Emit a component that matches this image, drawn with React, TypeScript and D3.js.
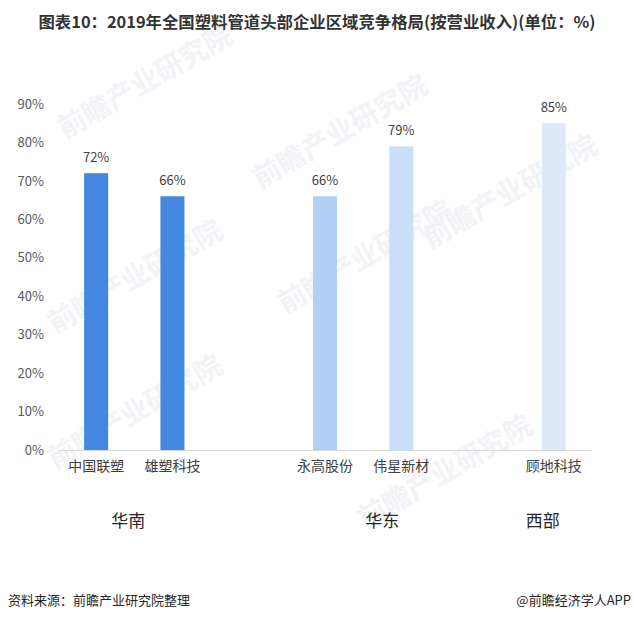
import * as React from "react";
import * as d3 from "d3";

const companies = ["中国联塑", "雄塑科技", "永高股份", "伟星新材", "顾地科技"];
const shares = [72, 66, 66, 79, 85];
const companyRegion = ["华南", "华南", "华东", "华东", "西部"];
const regions = ["华南", "华东", "西部"];
const yTicks = [0, 10, 20, 30, 40, 50, 60, 70, 80, 90];
const barColors = ["#4287e0", "#4287e0", "#b2cff5", "#c9dff9", "#dde9f9"];
// small nudges so region titles sit where the original placed them
const regionShift = [-6, 19, -11];

const W = 634;
const H = 621;
const FONT = "'Noto Sans CJK SC', 'Noto Sans', sans-serif";

export default function App() {
  const ref = React.useRef<SVGSVGElement | null>(null);

  React.useEffect(() => {
    const svg = d3.select(ref.current);
    svg.selectAll("*").remove();

    // slot domain: companies with an empty slot between regions
    const domain: string[] = [];
    regions.forEach((r, ri) => {
      if (ri > 0) domain.push("_gap" + ri);
      companies.forEach((c, i) => {
        if (companyRegion[i] === r) domain.push(c);
      });
    });

    const x = d3
      .scaleBand<string>()
      .domain(domain)
      .range([58, 592])
      .paddingInner(0.685)
      .paddingOuter(0.3425);
    const y = d3.scaleLinear().domain([0, 90]).range([450, 104]);

    // watermark
    const marks = [
      [150, 90],
      [140, 285],
      [345, 140],
      [370, 265],
      [515, 200],
      [450, 480],
      [140, 420],
    ];
    svg
      .append("g")
      .selectAll("text")
      .data(marks)
      .enter()
      .append("text")
      .attr("x", (d) => d[0])
      .attr("y", (d) => d[1])
      .attr("transform", (d) => `rotate(-30, ${d[0]}, ${d[1]})`)
      .attr("text-anchor", "middle")
      .attr("font-family", FONT)
      .attr("font-weight", "bold")
      .attr("font-size", 28)
      .attr("fill", "#f1f3f6")
      .text("前瞻产业研究院");

    // title
    svg
      .append("text")
      .attr("x", W / 2)
      .attr("y", 28)
      .attr("text-anchor", "middle")
      .attr("font-family", FONT)
      .attr("font-weight", "bold")
      .attr("font-size", 16)
      .attr("fill", "#333333")
      .attr("textLength", 557)
      .attr("lengthAdjust", "spacingAndGlyphs")
      .text("图表10：2019年全国塑料管道头部企业区域竞争格局(按营业收入)(单位：%)");

    // y axis labels
    const yAxis = d3
      .axisLeft(y)
      .tickValues(yTicks)
      .tickSize(0)
      .tickPadding(0)
      .tickFormat((d) => `${d}%`);
    const yG = svg.append("g").attr("transform", "translate(44,0)").call(yAxis);
    yG.select(".domain").remove();
    yG.selectAll("text")
      .attr("font-family", FONT)
      .attr("font-size", 13)
      .attr("fill", "#595959");

    // x axis
    const xAxis = d3
      .axisBottom(x)
      .tickSize(0)
      .tickPadding(11)
      .tickFormat((d) => (d.startsWith("_gap") ? "" : d));
    const xG = svg.append("g").attr("transform", "translate(0,450)").call(xAxis);
    xG.select(".domain")
      .attr("stroke", "#d9d9d9")
      .attr("stroke-width", 1)
      .attr("d", "M58,0.5H592");
    xG.selectAll("text")
      .attr("font-family", FONT)
      .attr("font-size", 14)
      .attr("fill", "#404040");

    // bars
    svg
      .append("g")
      .selectAll("rect")
      .data(companies)
      .enter()
      .append("rect")
      .attr("x", (d) => x(d)!)
      .attr("y", (_, i) => y(shares[i]))
      .attr("width", x.bandwidth())
      .attr("height", (_, i) => y(0) - y(shares[i]))
      .attr("fill", (_, i) => barColors[i]);

    // value labels
    svg
      .append("g")
      .selectAll("text")
      .data(companies)
      .enter()
      .append("text")
      .attr("x", (d) => x(d)! + x.bandwidth() / 2)
      .attr("y", (_, i) => y(shares[i]) - 11)
      .attr("text-anchor", "middle")
      .attr("font-family", FONT)
      .attr("font-size", 13)
      .attr("fill", "#404040")
      .text((_, i) => `${shares[i]}%`);

    // region labels
    svg
      .append("g")
      .selectAll("text")
      .data(regions)
      .enter()
      .append("text")
      .attr("x", (r, ri) => {
        const cs = companies.filter((_, i) => companyRegion[i] === r);
        return d3.mean(cs, (c) => x(c)! + x.bandwidth() / 2)! + regionShift[ri];
      })
      .attr("y", 527)
      .attr("text-anchor", "middle")
      .attr("font-family", FONT)
      .attr("font-size", 17)
      .attr("fill", "#262626")
      .text((r) => r);

    // footer
    svg
      .append("text")
      .attr("x", 8)
      .attr("y", 605)
      .attr("font-family", FONT)
      .attr("font-size", 13)
      .attr("fill", "#262626")
      .text("资料来源：前瞻产业研究院整理");
    svg
      .append("text")
      .attr("x", 631)
      .attr("y", 605)
      .attr("text-anchor", "end")
      .attr("font-family", FONT)
      .attr("font-size", 13)
      .attr("fill", "#262626")
      .text("@前瞻经济学人APP");
  }, []);

  return (
    <svg
      ref={ref}
      width={W}
      height={H}
      style={{ position: "absolute", left: 0, top: 0, background: "#ffffff" }}
    />
  );
}
